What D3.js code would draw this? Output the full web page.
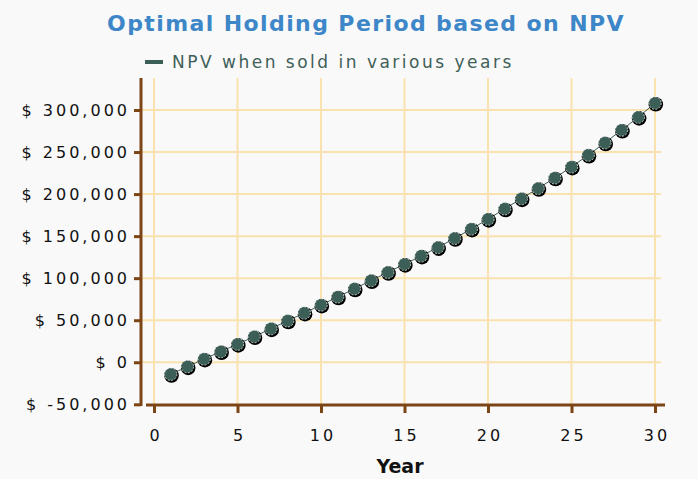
<!DOCTYPE html>
<html lang="en">
<head>
    <meta charset="UTF-8">
    <title>Optimal Holding Period based on NPV</title>
    <script src="https://d3js.org/d3.v7.min.js"></script>
    <style>
        html, body {
            margin: 0;
            padding: 0;
            background: #f9f9f9;
        }
        svg {
            display: block;
            font-family: "DejaVu Sans", Verdana, sans-serif;
        }
    </style>
</head>
<body>
    <svg id="chart" width="698" height="479"></svg>
    <script>
        // Data
        const years = d3.range(1, 31);
        const npv = [
            -14300, -5200, 3900, 12700, 21500, 30500, 39900, 49300, 58600, 68100,
            77800, 87400, 97200, 107000, 116600, 126500, 136600, 147400, 158500, 170200,
            182500, 194600, 206800, 219300, 232300, 246400, 261000, 276100, 291500, 308200
        ];
        const xTicks = [0, 5, 10, 15, 20, 25, 30];
        const yTicks = [-50000, 0, 50000, 100000, 150000, 200000, 250000, 300000];
        const titleText = 'Optimal Holding Period based on NPV';
        const seriesName = 'NPV when sold in various years';
        const xTitle = 'Year';

        const svg = d3.select('#chart');
        const brown = '#7d4516';
        const grid = '#f9e2ad';
        const teal = '#3b5e56';

        const plotTop = 78, plotBottom = 405, plotLeft = 141, plotRight = 661;

        const x = d3.scaleLinear().domain([0, 30]).range([154, 655]);
        const y = d3.scaleLinear().domain([-50000, 300000]).range([404.3, 110]);

        // Title
        svg.append('text')
            .attr('x', 366).attr('y', 31)
            .attr('text-anchor', 'middle')
            .attr('font-size', 22).attr('font-weight', 'bold')
            .attr('letter-spacing', 1.4)
            .attr('fill', '#3d86c8')
            .text(titleText);

        // Legend
        svg.append('line')
            .attr('x1', 145).attr('x2', 163).attr('y1', 62).attr('y2', 62)
            .attr('stroke', teal).attr('stroke-width', 4);
        svg.append('text')
            .attr('x', 172).attr('y', 68)
            .attr('font-size', 17).attr('letter-spacing', 2.5)
            .attr('fill', '#3f6058')
            .text(seriesName);

        // Grid lines
        svg.append('g').selectAll('line.v')
            .data(xTicks).join('line')
            .attr('x1', d => x(d)).attr('x2', d => x(d))
            .attr('y1', plotTop).attr('y2', plotBottom)
            .attr('stroke', grid).attr('stroke-width', 2);
        svg.append('g').selectAll('line.h')
            .data(yTicks.filter(d => d > -50000)).join('line')
            .attr('x1', plotLeft).attr('x2', plotRight)
            .attr('y1', d => y(d)).attr('y2', d => y(d))
            .attr('stroke', grid).attr('stroke-width', 2);

        // Axes
        const fmt = d => '$ ' + (d < 0 ? '-' : '') + d3.format(',')(Math.abs(d));
        const yAxis = svg.append('g')
            .attr('transform', `translate(${plotLeft},0)`)
            .call(d3.axisLeft(y).tickValues(yTicks).tickFormat(fmt).tickSize(7).tickPadding(3));
        const xAxis = svg.append('g')
            .attr('transform', `translate(0,${plotBottom})`)
            .call(d3.axisBottom(x).tickValues(xTicks).tickSize(8).tickPadding(17));

        [yAxis, xAxis].forEach(g => {
            g.select('.domain').remove();
            g.selectAll('.tick line').attr('stroke', brown).attr('stroke-width', 3);
            g.selectAll('.tick text')
                .attr('fill', '#111')
                .attr('font-size', 16)
                .attr('letter-spacing', 3)
                .attr('font-family', '"DejaVu Sans", Verdana, sans-serif');
        });
        xAxis.selectAll('.tick text').attr('dx', 1.5);
        yAxis.selectAll('.tick text').attr('dx', -1);

        svg.append('line')
            .attr('x1', plotLeft).attr('x2', plotLeft)
            .attr('y1', plotTop).attr('y2', plotBottom + 1)
            .attr('stroke', brown).attr('stroke-width', 3);
        svg.append('line')
            .attr('x1', plotLeft + 5).attr('x2', 665)
            .attr('y1', plotBottom).attr('y2', plotBottom)
            .attr('stroke', brown).attr('stroke-width', 3);

        // X title
        svg.append('text')
            .attr('x', 400).attr('y', 473)
            .attr('text-anchor', 'middle')
            .attr('font-size', 19).attr('font-weight', 'bold')
            .attr('fill', '#111')
            .text(xTitle);

        // Series
        const pts = years.map((yr, i) => ({ yr, v: npv[i] }));
        svg.append('path')
            .datum(pts)
            .attr('fill', 'none')
            .attr('stroke', teal).attr('stroke-width', 1)
            .attr('d', d3.line().x(d => x(d.yr)).y(d => y(d.v)));

        const dots = svg.append('g');
        dots.selectAll('circle.shadow')
            .data(pts).join('circle')
            .attr('class', 'shadow')
            .attr('cx', d => x(d.yr) + 0.8).attr('cy', d => y(d.v) + 1.2)
            .attr('r', 7.3)
            .attr('fill', '#000');
        dots.selectAll('circle.dot')
            .data(pts).join('circle')
            .attr('class', 'dot')
            .attr('cx', d => x(d.yr)).attr('cy', d => y(d.v))
            .attr('r', 6.2)
            .attr('fill', teal)
            .attr('stroke', '#e8eeec').attr('stroke-width', 0.8)
            .attr('stroke-dasharray', '2,1.5');
    </script>
</body>
</html>
